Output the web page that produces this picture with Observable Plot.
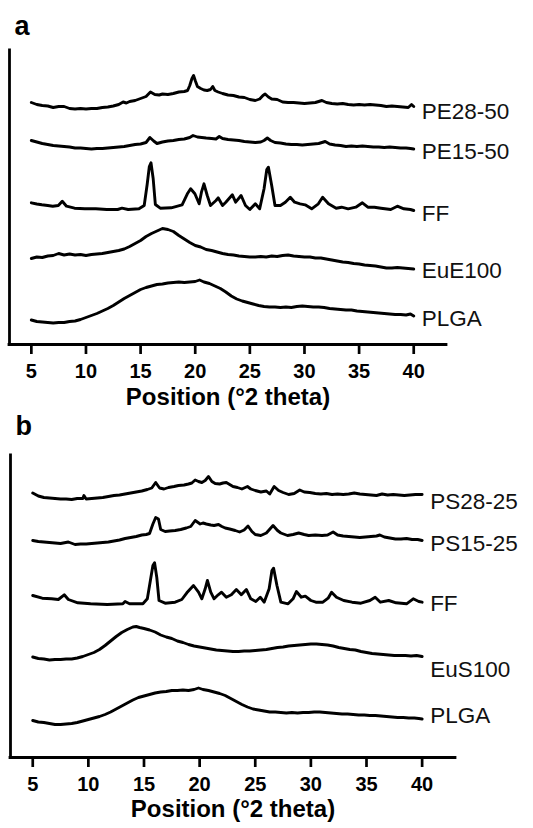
<!DOCTYPE html>
<html><head><meta charset="utf-8">
<script src="https://cdn.jsdelivr.net/npm/d3@7"></script>
<script src="https://cdn.jsdelivr.net/npm/@observablehq/plot@0.6"></script>
<style>
body{margin:0;background:#fff;}
#chart{width:533px;}
#chart svg{display:block;}
</style></head><body><div id="chart"></div>
<script>
// ---- shared axis ----
const xTicks = [5,10,15,20,25,30,35,40];
const xTitle = "Position (°2 theta)";

// ---- panel a : [2θ, stacked intensity (a.u.)] ----
const namesA = ["PE28-50","PE15-50","FF","EuE100","PLGA"];
const PE28_50 = [[5,242],[5.5,240],[6,239],[6.5,238.5],[7,237],[7.5,238],[8,238],[8.5,236],[9,235.5],[9.5,236],[10,235.5],[10.5,236],[11,236],[11.5,237],[12,237.5],[12.5,238.5],[13,240],[13.4,242.5],[13.7,241.5],[14,243],[14.5,244],[15,246],[15.5,248],[15.9,252.5],[16.3,250],[16.7,249.5],[17,250.5],[17.5,250],[18,251],[18.5,252.5],[19,253],[19.3,254],[19.5,259],[19.7,266],[19.85,269],[20.0,264],[20.2,258],[20.5,256],[20.8,254.5],[21.1,254],[21.4,255],[21.6,258],[21.8,254],[22.1,252.5],[22.5,251],[23,249.5],[23.5,249],[24,247.5],[24.5,247],[25,245],[25.5,244],[25.9,245.5],[26.2,249],[26.4,250.5],[26.7,247.5],[27.0,245.5],[27.5,245],[28,242.5],[28.5,242],[29,242],[29.5,241.5],[30,241],[30.5,241.5],[31,242],[31.6,244],[32,242],[32.5,241],[33,240.5],[33.5,241],[34,240],[34.5,239.5],[35,240],[35.5,239.5],[36,240],[36.5,239.5],[37,239],[37.5,238],[38,238.5],[38.5,238],[39,237.5],[39.5,237],[39.8,240],[40,238]];
const PE15_50 = [[5,204],[5.5,202.5],[6,201],[6.5,200],[7,199],[7.5,198.5],[8,198],[8.5,197.5],[9,196.5],[9.5,196.5],[10,196],[10.5,195.5],[11,196],[11.5,196],[12,196.5],[12.5,197],[13,197.5],[13.5,198],[14,199],[14.5,200],[15,200.5],[15.5,202],[15.85,207],[16.2,203.5],[16.5,201],[17,202.5],[17.5,203.5],[18,204],[18.5,205],[19,205.5],[19.5,207],[19.8,209],[20.2,207.5],[20.6,207],[21,206.5],[21.5,206],[21.9,205.5],[22.2,208],[22.5,206],[23,205],[23.5,204.5],[24,204],[24.5,203],[25,202.5],[25.5,202],[26,202.5],[26.3,204],[26.6,206.5],[26.9,204],[27.3,202],[27.8,201.5],[28.3,200.5],[28.8,200],[29.3,200],[29.8,199.5],[30.3,200],[30.8,200.5],[31.3,201],[31.9,203],[32.3,200.5],[32.8,199.5],[33.3,199],[33.8,198],[34.3,198.5],[34.8,198],[35.3,198.5],[35.8,198],[36.3,197.5],[36.8,197.5],[37.3,197],[37.8,197.5],[38.3,197],[38.8,196.5],[39.3,196.5],[39.7,196],[40,195.5]];
const FF_A = [[5,141.7],[5.5,140.5],[5.96,139.7],[6.5,139],[6.96,138.3],[7.47,139],[7.83,143.3],[8.22,138.3],[8.95,136.3],[9.9,135.7],[10.9,135.7],[11.9,135],[12.9,135],[13.3,136.3],[13.86,135],[14.85,135.7],[15.33,139],[15.6,160],[15.8,178],[15.95,181.7],[16.15,166],[16.35,140],[16.8,136.3],[17.8,136.7],[18.8,139.7],[19.28,150.7],[19.58,155.7],[19.97,150.7],[20.36,140.7],[20.57,152.3],[20.8,160.7],[21.1,149],[21.4,139],[21.9,144],[22.1,146.7],[22.5,139],[22.8,142.3],[23.4,149.7],[23.7,142.3],[24.2,149],[24.6,139],[25.0,135],[25.5,140.7],[25.9,135.7],[26.3,155.7],[26.55,175],[26.7,177.3],[27.0,159],[27.3,139],[27.8,139],[28.25,142.3],[28.7,147.3],[29.1,142.3],[29.6,140.7],[30.06,139.7],[30.66,135.7],[31.27,140.7],[31.66,147.3],[32.2,140.7],[32.9,136.3],[33.4,137.3],[34.0,135.7],[34.7,137.3],[35.3,141.7],[35.8,137.3],[36.4,137.3],[37.0,136.3],[37.9,135],[38.5,138.3],[39.1,135.7],[39.7,135],[40,134]];
const EuE100 = [[5,86],[5.5,87.5],[6,87],[6.5,88.5],[7,89],[7.5,91],[8,89.5],[8.5,90.5],[9,89.5],[9.5,90],[10,89],[10.5,90],[11,90.5],[11.5,91],[12,92],[12.5,93],[13,94],[13.5,95.5],[14,98],[14.5,101],[15,104],[15.5,108],[16,111],[16.5,113.5],[17,116],[17.5,115],[18,113],[18.5,109],[19,105.5],[19.5,102],[20,99],[20.5,97.5],[21,95],[21.5,94],[22,92.5],[22.5,91],[23,90],[23.5,89.5],[24,88.5],[24.5,88],[25,87.5],[25.5,87.5],[26,88],[26.5,87.5],[27,88.5],[27.5,88],[28,89],[28.5,89.5],[29,88.5],[29.5,88],[30,87.5],[30.5,87.5],[31,86.5],[31.5,86.5],[32,85.5],[32.5,84.5],[33,83.5],[33.5,82.5],[34,82],[34.5,81],[35,80.5],[35.5,79.5],[36,79],[36.5,78.5],[37,77.5],[37.5,76.5],[38,76.5],[38.5,77],[39,76.5],[39.5,76],[40,75.5]];
const PLGA_A = [[5,24.5],[5.5,23],[6,22.5],[6.5,22],[7,21.5],[7.5,22],[8,22],[8.5,23],[9,23.5],[9.5,25],[10,27],[10.5,29],[11,31],[11.5,33.5],[12,36],[12.5,39],[13,42.5],[13.5,46],[14,49],[14.5,52],[15,55],[15.5,57],[16,58.5],[16.5,60],[17,60.5],[17.5,61.5],[18,62],[18.5,62.5],[19,62],[19.5,62.5],[20,63],[20.4,64.5],[20.8,62.5],[21.3,61],[21.8,58.5],[22.3,56],[22.8,52.5],[23.3,48.5],[23.8,45.5],[24.3,43.5],[24.8,42],[25.3,40.5],[25.8,39],[26.3,38],[26.8,37.5],[27.3,37.5],[27.8,37],[28.3,37.5],[28.8,37],[29.3,38],[29.8,38.5],[30.3,38],[30.8,37.5],[31.3,37.5],[31.8,37],[32.3,36],[32.8,35.5],[33.3,35],[33.8,34.5],[34.3,34.5],[34.8,33.5],[35.3,33],[35.8,32.5],[36.3,32],[36.8,31.5],[37.3,31],[37.8,30.5],[38.3,30],[38.8,30],[39.3,29.5],[39.7,30.5],[40,28.5]];

// ---- panel b ----
const namesB = ["PS28-25","PS15-25","FF","EuS100","PLGA"];
const PS28_25 = [[5,264.5],[5.5,261.5],[6,260],[6.5,259.5],[7,259],[7.5,258.5],[8,258.5],[8.5,258],[9,259],[9.5,259],[9.6,262],[9.8,258.5],[10.3,259],[10.8,259.5],[11.3,260],[11.8,261],[12.3,262],[12.8,262.5],[13.3,263.5],[13.8,264.5],[14.3,265.5],[14.8,266.5],[15.3,268],[15.7,269.5],[16.05,275],[16.4,269.5],[16.8,268.5],[17.2,270],[17.7,271],[18.1,272],[18.6,272.5],[19.0,273.5],[19.3,274.5],[19.6,277.5],[19.9,276],[20.2,275],[20.5,277],[20.8,281],[21.1,276],[21.4,274],[21.8,273.5],[22.1,274.5],[22.4,275],[22.7,273],[23.0,271],[23.4,270],[23.8,268.5],[24.3,271],[24.6,268.5],[25.0,267],[25.5,265.5],[26.0,266.5],[26.3,263.5],[26.7,271],[27.1,267],[27.5,265],[28.0,263],[28.5,264],[29.0,267.5],[29.4,265.5],[29.9,265],[30.4,264],[30.9,263.5],[31.4,264],[31.9,263],[32.4,263.5],[32.9,263],[33.4,263.5],[33.9,264.5],[34.4,263.5],[34.9,263],[35.4,262.5],[35.9,262],[36.4,263.5],[36.9,262.5],[37.4,263],[37.9,262.5],[38.4,262],[38.9,262.5],[39.4,263],[40,263]];
const PS15_25 = [[5,217],[5.5,216],[6,215.5],[6.5,215],[7,214.5],[7.5,214],[8.2,215.5],[8.8,213],[9.3,213.5],[9.8,213.5],[10.3,214],[10.8,214.5],[11.3,215],[11.8,215.5],[12.3,216.5],[12.8,217.5],[13.3,219],[13.8,220],[14.3,221],[14.8,222.5],[15.2,223],[15.5,224],[15.8,233.5],[16.05,240],[16.3,238.5],[16.5,228],[16.9,226],[17.3,226.5],[17.8,227],[18.3,228],[18.8,229.5],[19.2,231],[19.6,237],[20.05,233.5],[20.3,234.5],[20.6,233.5],[21.0,232.5],[21.3,232],[21.7,233],[22.0,231],[22.3,229.5],[22.7,228.5],[23.2,227],[23.6,225.5],[24.0,227.5],[24.35,231.5],[24.7,226],[25.0,223],[25.5,222],[26.0,224.5],[26.6,232],[27.0,227],[27.3,224.5],[27.9,222],[28.4,223],[28.9,224.5],[29.4,223],[29.8,222],[30.4,222.5],[31.0,222],[31.5,222.5],[32.0,225.5],[32.4,222.5],[32.9,221.5],[33.4,221],[33.9,220.5],[34.4,220],[34.9,220.5],[35.4,221],[35.9,221.5],[36.2,222.5],[36.6,220.5],[37.1,219.5],[37.6,218.5],[38.1,218.5],[38.6,219],[39.1,218],[39.6,218],[40,217]];
const FF_B = [[5,162],[5.85,159.3],[6.7,158.7],[7.3,158],[7.83,162.7],[8.2,158],[9.05,154.7],[10.2,153.7],[11.7,153],[13.1,153.7],[13.3,156],[13.7,153.7],[14.9,153.7],[15.3,158.7],[15.6,178.7],[15.8,192],[15.95,194.7],[16.15,180],[16.35,157],[16.9,154.3],[17.8,155.3],[18.4,158],[18.85,164.7],[19.45,172],[19.9,165.3],[20.2,158.7],[20.5,168.7],[20.7,177],[21.0,165.3],[21.3,158.7],[21.67,162.7],[21.97,165.3],[22.4,160.3],[22.85,162.7],[23.3,168],[23.75,162.7],[24.2,168],[24.6,158.7],[25.05,156],[25.45,160.3],[25.8,155.3],[26.25,168.7],[26.5,187],[26.65,189.3],[26.95,172],[27.3,155.3],[27.95,153.7],[28.4,158.7],[28.7,166],[29.14,160.3],[29.5,161.3],[30.0,157],[30.45,155.3],[31.08,155.3],[31.55,159.3],[31.86,165.3],[32.3,160.3],[32.95,157],[33.7,155.3],[34.5,154.3],[35.3,157],[35.78,160.3],[36.25,155.3],[37.0,157],[37.66,154.7],[38.6,153.7],[39.2,158.7],[39.7,156],[40,155.3]];
const EuS100 = [[5,100.5],[5.5,99],[6,98.5],[6.5,97.5],[7,98],[7.5,98],[8,98.5],[8.5,98.5],[9,99.5],[9.5,101],[10,103],[10.5,105],[11,108],[11.5,112],[12,116.5],[12.5,121],[13,125],[13.5,128],[14,130.5],[14.3,131],[14.6,130],[15,129],[15.5,127.5],[16,125.5],[16.5,122.5],[17,120.5],[17.5,119],[18,116.5],[18.5,115],[19,113],[19.5,111.5],[20,110.5],[20.5,109.5],[21,108.5],[21.5,107.5],[22,107],[22.5,106.5],[23,106],[23.5,106],[24,106.5],[24.5,106.5],[25,107],[25.5,107.5],[26,108],[26.5,109],[27,110],[27.5,110.5],[28,111.5],[28.5,112],[29,112.5],[29.5,113],[30,113.5],[30.5,113.5],[31,113],[31.5,112.5],[32,111.5],[32.5,110],[33,109],[33.5,108],[34,107.5],[34.5,106],[35,105],[35.5,104],[36,103.5],[36.5,103],[37,102.5],[37.5,102],[38,102],[38.5,102],[39,101.5],[39.5,102],[40,101]];
const PLGA_B = [[5,37],[5.5,35.5],[6,35],[6.5,34],[7,33],[7.5,33],[8,33.5],[8.5,34],[9,35],[9.5,36.5],[10,38],[10.5,39.5],[11,41],[11.5,43],[12,45.5],[12.5,48.5],[13,51.5],[13.5,54.5],[14,57.5],[14.5,60],[15,61.5],[15.5,63],[16,64.5],[16.5,65.5],[17,66],[17.5,67],[18,67],[18.5,67.5],[19,67],[19.5,68],[19.9,69.5],[20.3,68],[20.8,67],[21.3,65.5],[21.8,64],[22.3,62],[22.8,59],[23.3,56],[23.8,53],[24.3,50.5],[24.8,48.5],[25.3,47.5],[25.8,46.5],[26.3,45.5],[26.8,45.5],[27.3,45],[27.8,44.5],[28.3,45],[28.8,44.5],[29.3,45],[29.8,45],[30.3,45.5],[30.8,45.5],[31.3,45],[31.8,44.5],[32.3,44],[32.8,43.5],[33.3,43.5],[33.8,43],[34.3,42.5],[34.8,42.5],[35.3,42],[35.8,42],[36.3,41.5],[36.8,41],[37.3,40.5],[37.8,40],[38.3,40],[38.8,39.5],[39.3,39.5],[39.7,39],[40,38.5]];

const FONT = "'Liberation Sans', Arial, Helvetica, sans-serif";

function panel({letter, names, traces, height, mt, mb, ml, mr, ymax, shifts, letterDy, titleDy}) {
  const rows = [];
  traces.forEach((t, i) => t.forEach(([x, y]) => rows.push({name: names[i], x, y})));
  const ends = traces.map((t, i) => ({name: names[i], x: t[t.length-1][0], y: t[t.length-1][1] - shifts[i]}));
  return Plot.plot({
    width: 533, height,
    marginTop: mt, marginBottom: mb, marginLeft: ml, marginRight: mr,
    x: {domain: [3, 43]},
    y: {domain: [0, ymax], axis: null},
    style: {fontFamily: FONT, color: "#000", background: "#fff", overflow: "visible"},
    marks: [
      Plot.axisX({ticks: xTicks, tickFormat: d => String(d), tickSize: 10, tickPadding: 9,
        fontSize: 20, fontWeight: "bold", strokeWidth: 2.7, label: null}),
      Plot.ruleY([0], {strokeWidth: 2.8, strokeLinecap: "square"}),
      Plot.ruleX([3], {strokeWidth: 2.8, strokeLinecap: "square"}),
      Plot.line(rows, {x: "x", y: "y", z: "name", stroke: "#000", strokeWidth: 2.9, strokeLinejoin: "round"}),
      Plot.text(ends, {x: "x", y: "y", text: "name", dx: 8, textAnchor: "start", fontSize: 22.5, fill: "#111"}),
      Plot.text([letter], {frameAnchor: "top-left", dx: 5, dy: letterDy, lineAnchor: "bottom",
        textAnchor: "start", fontSize: 27, fontWeight: "bold"}),
      Plot.text([xTitle], {frameAnchor: "bottom", dy: titleDy, fontSize: 24, fontWeight: "bold"})
    ]
  });
}

const root = document.getElementById("chart");
root.append(panel({letter: "a", names: namesA, traces: [PE28_50, PE15_50, FF_A, EuE100, PLGA_A],
  height: 410, mt: 50, mb: 66, ml: 9, mr: 87, ymax: 294, shifts: [5, 3, 3, 2, 2.5], letterDy: -16, titleDy: 60}));
root.append(panel({letter: "b", names: namesB, traces: [PS28_25, PS15_25, FF_B, EuS100, PLGA_B],
  height: 418, mt: 45, mb: 71, ml: 10, mr: 78, ymax: 302, shifts: [7, 3.5, 2, 13, -3], letterDy: -21, titleDy: 59}));
</script></body></html>
